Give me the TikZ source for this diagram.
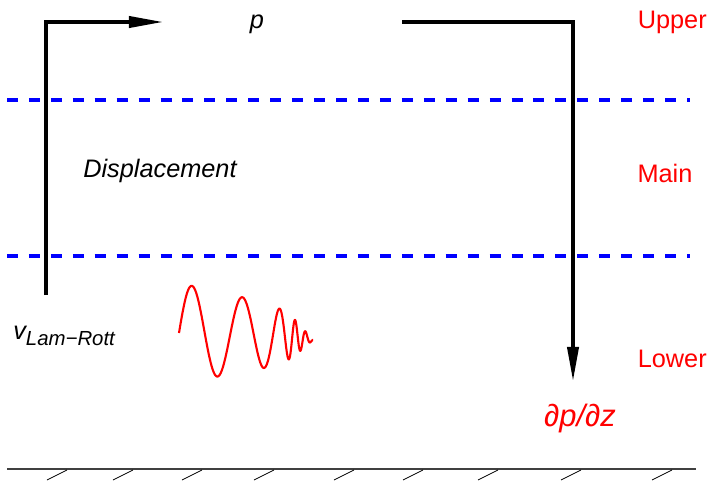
\documentclass[tikz,border=0pt]{standalone}
\usepackage{fontspec}
\setmainfont{Liberation Sans}
\usepackage{tikz}
\usetikzlibrary{arrows.meta}
\definecolor{ink}{HTML}{000000}
\definecolor{ink3}{HTML}{404040}
\definecolor{clayer}{HTML}{0000FF}
\definecolor{czone}{HTML}{FF0000}
\newcommand{\lblfont}{\fontsize{18}{21.6}\selectfont}
\newcommand{\subfont}{\fontsize{14.5}{17}\selectfont\itshape}
\tikzset{
  flow/.style={-{Triangle[length=8.5mm,width=2.8mm]}, line width=2.3pt, draw=ink},
  layer/.style={draw=clayer, line width=2.2pt, dash pattern=on 7.8pt off 7.8pt},
  lbl/.style={font=\lblfont\itshape, text=ink, inner sep=0pt},
  zone/.style={font=\lblfont, text=czone, inner sep=0pt},
  wave/.style={draw=czone, line width=1.5pt, line join=round},
  ground/.style={draw=ink3, line width=1pt},
  hatch/.style={draw=ink, line width=0.6pt},
}

\begin{document}
\begin{tikzpicture}[x=0.025cm, y=-0.025cm]
  \useasboundingbox (0,0) rectangle (711,481);
  % ---- layer boundaries ----
  \draw[layer] (7,100) -- (690,100);
  \draw[layer] (7,256) -- (690,256);
  % ---- labels ----
  \node[lbl, anchor=base] (pLbl) at (257,28) {p};
  \node[lbl, anchor=base west] (disp) at (83,177) {Displacement};
  \node[lbl, anchor=base west] (vel) at (13,339) {v\raisebox{-4.8pt}{\subfont Lam−Rott}};
  \node[lbl, text=czone, font=\fontsize{22}{26}\selectfont\itshape, anchor=base] (grad) at (580,426) {∂p/∂z};
  \node[zone, anchor=base east] (upper) at (707,28) {Upper};
  \node[zone, anchor=base] (main) at (665,182) {Main};
  \node[zone, anchor=base east] (lower) at (707,367) {Lower};
  % ---- pressure arrows ----
  \coordinate (lamStart) at (46,295);
  \coordinate (pTip) at (163,22);
  \coordinate (gradStart) at (402,22);
  \coordinate (gradTip) at (573,381);
  \draw[flow] (lamStart) |- (pTip);
  \draw[flow] (gradStart) -| (gradTip);
  % ---- decaying wave ----
  \draw[wave] plot[domain=0:10, samples=400, variable=\u]
    ({179+5*\u+21*(4.002-0.7*ln(1+exp((4-\u)/0.7)))}, {333+0.7*\u-(50-5*\u)*sin(180*\u)});
  % ---- ground ----
  \draw[ground] (7,469) -- (696,469);
  \foreach \hx in {47,113,182,254,334,403,478,561,652}{
    \draw[hatch] (\hx,480) -- ++(20,-10);
  }
\end{tikzpicture}
\end{document}
